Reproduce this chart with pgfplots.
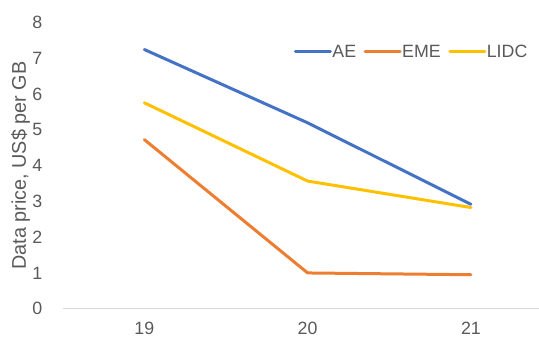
\documentclass[border=0pt]{standalone}
\usepackage{pgfplots}
\pgfplotsset{compat=1.18}
\usepackage{fontspec}
\setmainfont{Liberation Sans}
\definecolor{aeblue}{HTML}{4472C4}
\definecolor{emeorange}{HTML}{ED7D31}
\definecolor{lidcgold}{HTML}{FFC000}
\definecolor{txtgray}{HTML}{595959}
\definecolor{axgray}{HTML}{D9D9D9}
\newcommand{\titlefont}{\fontsize{19.8bp}{22bp}\selectfont}
\newcommand{\chartfont}{\fontsize{17.8bp}{20bp}\selectfont}
\begin{document}
\begin{tikzpicture}
\useasboundingbox (0,0) rectangle (539bp,339bp);
\begin{axis}[
  at={(62.7bp,30.3bp)}, anchor=south west,
  scale only axis, width=476.3bp, height=286bp,
  xmin=-0.5, xmax=2.417, ymin=0, ymax=8,
  xtick={0,1,2}, xticklabels={19,20,21},
  ytick={0,1,...,8},
  axis x line=bottom, axis y line=left,
  x axis line style={draw=axgray, line width=1bp, -},
  y axis line style={draw=none},
  major tick length=0pt, tick style={draw=none},
  tick label style={font=\chartfont, text=txtgray},
  /pgf/number format/assume math mode=true,
  yticklabel style={anchor=east, xshift=-17bp},
  xticklabel style={anchor=north, yshift=-10bp},
  ylabel={Data price, US\$ per GB},
  every axis y label/.style={at={(axis description cs:0,0.5)}, xshift=-42bp, rotate=90, anchor=center,
    font=\titlefont, text=txtgray},
  legend columns=3,
  legend style={at={(axis description cs:0.4856,0.8986)}, anchor=west, draw=none, fill=none,
    inner sep=0pt, outer sep=0pt,
    font=\chartfont, text=txtgray,
    nodes={inner sep=0.5bp},
    /tikz/every even column/.append style={column sep=7bp}},
  legend image code/.code={\draw[#1] (0bp,0bp) -- (35bp,0bp);},
  every axis plot/.append style={line width=3bp, line join=round, line cap=round},
]
\addplot[aeblue] coordinates {(0,7.25) (1,5.20) (2,2.92)};
\addplot[emeorange] coordinates {(0,4.73) (1,1.00) (2,0.95)};
\addplot[lidcgold] coordinates {(0,5.76) (1,3.57) (2,2.83)};
\legend{AE,EME,LIDC}
\end{axis}
\end{tikzpicture}
\end{document}
